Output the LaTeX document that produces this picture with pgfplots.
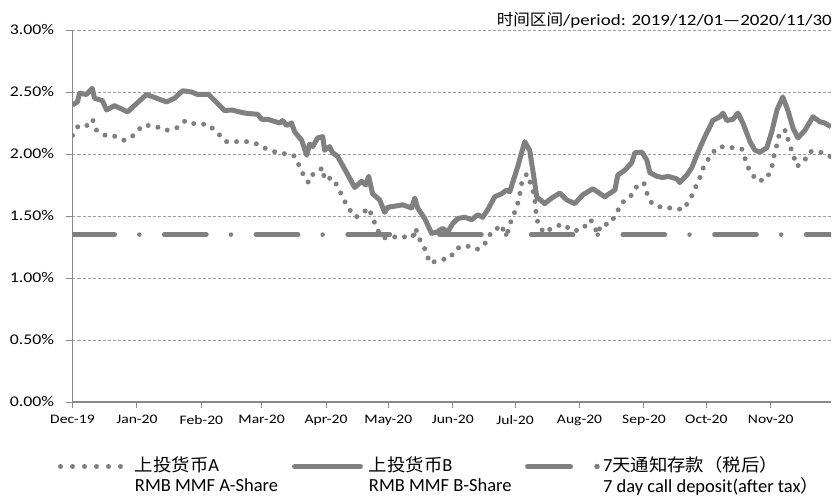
\documentclass[border=0pt]{standalone}
\usepackage{pgfplots}
\pgfplotsset{compat=1.18}
\usepackage{fontspec}
\setmainfont{Carlito}[FakeStretch=1.2]
\newfontfamily\legfont{Carlito}
\newfontfamily\cjk{Noto Sans CJK SC}[FakeStretch=1.05]
\newcommand\lc[1]{{\fontsize{17.5}{20}\cjk #1}}
\newcommand\legtext[2]{\fontsize{18.5}{20}\legfont\begin{tabular}[t]{@{}l@{}}#1\\#2\end{tabular}}
\definecolor{lg}{RGB}{128,128,128}
\definecolor{ax}{RGB}{137,137,137}
\definecolor{gr}{RGB}{160,160,160}
\begin{document}
\begin{tikzpicture}
\path[use as bounding box] (-72.5pt,-94pt) rectangle (762.5pt,402pt);
\begin{axis}[
  scale only axis, width=758.5pt, height=372pt,
  xmin=0, xmax=365, ymin=0, ymax=3,
  axis lines=left, axis line style={-, draw=ax, line width=1.5pt},
  xtick={0,31,62,91,122,152,183,213,244,275,305,336},
  xticklabels={Dec-19,Jan-20,Feb-20,Mar-20,Apr-20,May-20,Jun-20,Jul-20,Aug-20,Sep-20,Oct-20,Nov-20},
  ytick={0,0.5,1,1.5,2,2.5,3},
  yticklabels={0.00\%,0.50\%,1.00\%,1.50\%,2.00\%,2.50\%,3.00\%},
  tick align=outside, major tick length=6pt,
  tick style={draw=ax, line width=1pt},
  ymajorgrids, grid style={draw=gr, line width=0.75pt, dash pattern=on 3pt off 2pt},
  xticklabel style={font=\fontsize{13}{15}\selectfont, yshift=-4pt},
  yticklabel style={font=\fontsize{14.8}{17}\selectfont, xshift=-9pt},
  title={\fontsize{15.8}{18}\selectfont{\cjk 时间区间}/period: 2019/12/01—2020/11/30},
  title style={at={(rel axis cs:1,1)}, anchor=base east, yshift=-1.5pt, xshift=1pt, inner sep=0pt},
  legend columns=3,
  legend cell align=left,
  legend style={at={(rel axis cs:0,0)}, anchor=north west, xshift=-14.5pt, yshift=-54.5pt,
    draw=none, fill=none, inner sep=0pt, outer sep=0pt, column sep=0pt, row sep=0pt,
    nodes={inner sep=0pt, outer sep=0pt, anchor=base west, text depth=0pt}},
]
\addplot[forget plot, lg, line width=4.5pt, line cap=round, dash pattern=on 42.2pt off 24.6pt on 0pt off 24.9pt]
  coordinates {(0,1.35) (365,1.35)};

\addplot[lg, line width=5pt, line cap=round, line join=round, dash pattern=on 0pt off 10pt,
  legend image code/.code={
    \draw[lg, line width=5pt, line cap=round, dash pattern=on 0pt off 12pt] (2.5pt,5pt) -- (62.6pt,5pt);
    \path[draw=none, fill=none] (0pt,5pt) -- (77pt,5pt);}]
coordinates {
(0,2.15) (2.9,2.23) (7.2,2.23) (9.6,2.28) (11.6,2.19) (15.9,2.15) (19.3,2.15) (25,2.11)
(29.4,2.15) (33.7,2.23) (39,2.23) (44.8,2.19) (50.1,2.21) (54.4,2.27) (59.2,2.24) (65,2.24)
(69.3,2.18) (73.7,2.10) (78.5,2.10) (83.8,2.10) (89.1,2.08) (93.4,2.04) (98.7,2.01) (103,2.00)
(106.4,1.99) (109.3,1.90) (111.7,1.81) (113.6,1.77) (115.1,1.83) (117.5,1.85) (120.4,1.89)
(121.3,1.79) (124.7,1.81) (127.6,1.74) (130,1.65) (132.9,1.56) (136.3,1.49) (140.1,1.53)
(142.5,1.565) (144.4,1.49) (146.4,1.40) (148.8,1.33) (151.7,1.32) (157.9,1.34) (162.7,1.32)
(164.7,1.36) (165.1,1.40) (167.1,1.31) (170,1.22) (171.9,1.12) (176.7,1.145) (181.5,1.16)
(184.9,1.24) (189.7,1.26) (194.5,1.23) (197.9,1.26) (200.8,1.35) (202.7,1.36) (205.6,1.43)
(209,1.35) (211.4,1.48) (213.8,1.57) (215.2,1.67) (216.2,1.77) (218.6,1.84) (221,1.74)
(222.4,1.65) (222.9,1.55) (223.9,1.445) (226.8,1.365) (231.6,1.41) (235.9,1.435) (240.7,1.38)
(245.1,1.39) (249.4,1.47) (252.8,1.355) (254.2,1.43) (258.5,1.435) (261.9,1.52) (263.8,1.60)
(268.2,1.65) (271.1,1.73) (274.9,1.77) (276.4,1.685) (278.8,1.60) (284.1,1.565) (289.4,1.565)
(293.7,1.55) (297.1,1.63) (299.5,1.72) (301.9,1.81) (303.8,1.90) (306.7,1.98) (310.1,2.05)
(313.4,2.06) (318.2,2.05) (322.1,2.04) (324,1.945) (326,1.855) (329.8,1.78) (334.1,1.80)
(336.5,1.89) (337.5,1.98) (339,2.08) (340.4,2.18) (343.3,2.19) (344.7,2.09) (346.7,2.00)
(348.6,1.90) (352,1.94) (354.8,2.02) (359.2,2.02) (364,1.98) (365,1.98)
};
\addlegendentry{\makebox[157pt][l]{\legtext{\lc{上投货币}A}{RMB MMF A-Share}}}

\addplot[lg, line width=5pt, line join=round,
  legend image code/.code={
    \draw[lg, line width=5pt, line cap=round] (2.5pt,5pt) -- (68.5pt,5pt);
    \path[draw=none, fill=none] (0pt,5pt) -- (77pt,5pt);}]
coordinates {
(0,2.395) (2.4,2.42) (3.4,2.49) (6.7,2.48) (9.5,2.53) (10.6,2.45) (14.4,2.43) (16.4,2.355)
(20.2,2.39) (26.5,2.34) (35.6,2.48) (45.3,2.42) (49.1,2.45) (53,2.51) (57.3,2.50) (60.2,2.48)
(65.5,2.48) (73.2,2.35) (76.6,2.355) (82.8,2.33) (89.1,2.32) (91,2.28) (93.9,2.28) (99.7,2.25)
(101.1,2.27) (103,2.23) (105.4,2.25) (106.9,2.18) (110.3,2.11) (112.7,1.99) (114.1,2.08)
(115.6,2.06) (118,2.13) (120.4,2.14) (121.3,2.03) (123.7,2.06) (125.2,2.01) (127.6,1.98)
(131.9,1.85) (135.8,1.73) (139.1,1.78) (141.1,1.75) (142.5,1.82) (144.4,1.68) (147.8,1.63)
(150.2,1.53) (151.7,1.57) (158.9,1.59) (163.2,1.565) (164.7,1.645) (166.1,1.565) (169.5,1.48)
(172.8,1.36) (175.3,1.37) (178.1,1.40) (180.5,1.37) (183,1.44) (185.4,1.48) (188.7,1.49)
(192.1,1.47) (195,1.51) (197.4,1.49) (199.8,1.55) (203.2,1.655) (206.5,1.68) (209,1.71)
(210.4,1.695) (211.9,1.775) (214.3,1.90) (217.6,2.10) (220,2.03) (221.5,1.87) (223.4,1.655)
(227.2,1.60) (230.6,1.645) (234.5,1.685) (237.8,1.63) (241.7,1.60) (245.5,1.67) (250.4,1.72)
(256.1,1.655) (261,1.71) (262.4,1.83) (265.8,1.87) (269.1,1.93) (270.6,2.01) (274,2.015)
(276.4,1.95) (277.8,1.85) (281.2,1.82) (284.1,1.81) (286.5,1.82) (290.8,1.80) (292.2,1.77)
(295.6,1.83) (298,1.89) (300.9,2.01) (304.3,2.14) (306.7,2.22) (308.1,2.27) (311.5,2.30)
(313,2.33) (314.9,2.27) (317.8,2.28) (320.2,2.33) (322.6,2.25) (326,2.10) (328.4,2.03)
(330.8,2.015) (334.1,2.05) (336.5,2.18) (339,2.355) (341.8,2.46) (344.2,2.355) (346.7,2.21)
(349.1,2.13) (352.4,2.19) (356.3,2.30) (359.7,2.26) (362,2.25) (365,2.22)
};
\addlegendentry{\makebox[156pt][l]{\legtext{\lc{上投货币}B}{RMB MMF B-Share}}}

\addlegendimage{legend image code/.code={
    \draw[lg, line width=5pt, line cap=round] (2.5pt,5pt) -- (45.5pt,5pt);
    \fill[lg] (72pt,5pt) circle (2.5pt);
    \path[draw=none, fill=none] (0pt,5pt) -- (78pt,5pt);}}
\addlegendentry{\legtext{7\lc{天通知存款（税后）}}{7 day call deposit(after tax\lc{）}}}
\end{axis}
\end{tikzpicture}
\end{document}
